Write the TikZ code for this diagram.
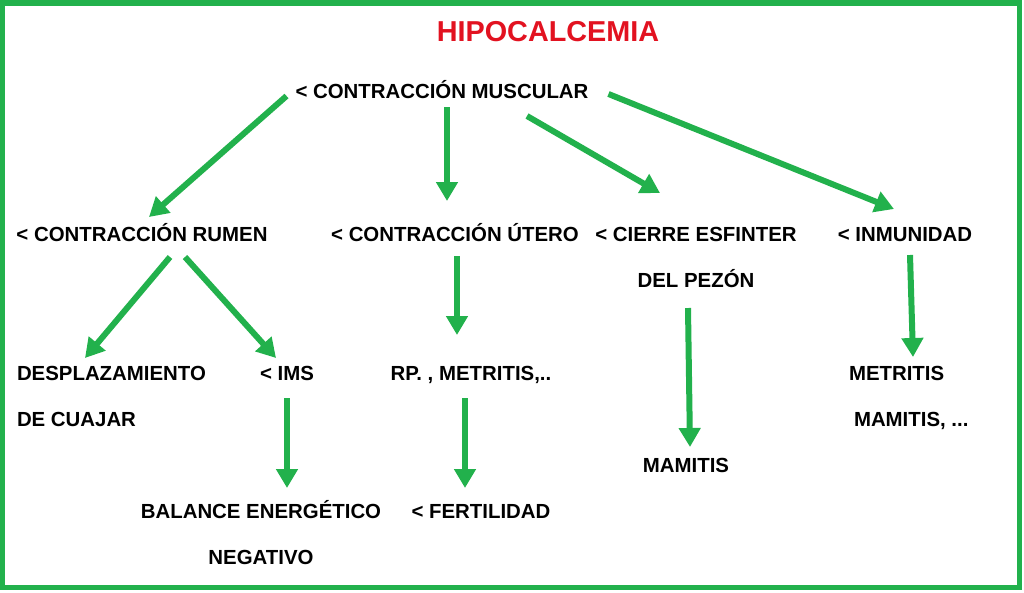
\documentclass[tikz,border=0pt]{standalone}
\usepackage{fontspec}
\setmainfont{Liberation Sans}
\usepackage{tikz}
\usetikzlibrary{arrows.meta}
\definecolor{verde}{RGB}{34,177,76}
\definecolor{rojo}{RGB}{226,18,32}
\begin{document}
\begin{tikzpicture}[x=1pt,y=-1pt,
  txt/.style={inner sep=0pt,outer sep=0pt,anchor=base,font=\fontsize{20.4}{46}\selectfont\bfseries},
  flecha/.style={verde,line width=6pt,-{Triangle[length=19pt,width=21pt]}},
  borde/.style={verde,line width=5.5pt}]
\useasboundingbox (0,0) rectangle (1024,592);
\draw[borde] (2.5,3) rectangle (1019.5,587.5);
\node[txt,rojo,font=\fontsize{28.8}{34}\selectfont\bfseries] (titulo) at (548,41) {HIPOCALCEMIA};
\node[txt] (musc) at (442,98) {< CONTRACCIÓN MUSCULAR};
\node[txt] (rumen) at (142,241) {< CONTRACCIÓN RUMEN};
\node[txt] (utero) at (455,241) {< CONTRACCIÓN ÚTERO};
\node[txt,align=center] (cierre) at (696,287) {< CIERRE ESFINTER\\DEL PEZÓN};
\node[txt] (inmun) at (905,241) {< INMUNIDAD};
\node[txt,align=left,anchor=base west] (despl) at (17,426) {DESPLAZAMIENTO\\DE CUAJAR};
\node[txt] (ims) at (287,380) {< IMS};
\node[txt] (rp) at (471,380) {RP. , METRITIS,..};
\node[txt,align=left,anchor=base west] (metr) at (849,426) {METRITIS\\\hspace*{5pt}MAMITIS, ...};
\node[txt] (mamitis) at (686,472) {MAMITIS};
\node[txt,align=center] (balance) at (261,564) {BALANCE ENERGÉTICO\\NEGATIVO};
\node[txt] (fert) at (481,518) {< FERTILIDAD};
\draw[flecha] ([shift={(-9,-2)}]musc.base west) -- ([shift={(7,-24)}]rumen.base);
\draw[flecha] ([shift={(5,9)}]musc.base) -- ([shift={(-8,-40)}]utero.base);
\draw[flecha] ([shift={(85,18)}]musc.base) -- ([shift={(-36,-94)}]cierre.base);
\draw[flecha] ([shift={(20,-4)}]musc.base east) -- ([shift={(-11,-32)}]inmun.base);
\draw[flecha] ([shift={(28,16)}]rumen.base) -- ([shift={(68,-68)}]despl.base west);
\draw[flecha] ([shift={(43,16)}]rumen.base) -- ([shift={(-11,-22)}]ims.base);
\draw[flecha] ([shift={(2,15)}]utero.base) -- ([shift={(-14,-45)}]rp.base);
\draw[flecha] ([shift={(-8,21)}]cierre.base) -- ([shift={(4,-25)}]mamitis.base);
\draw[flecha] ([shift={(5,14)}]inmun.base) -- ([shift={(64,-69)}]metr.base west);
\draw[flecha] ([shift={(0,18)}]ims.base) -- ([shift={(26,-76)}]balance.base);
\draw[flecha] ([shift={(-6,18)}]rp.base) -- ([shift={(-16,-30)}]fert.base);
\end{tikzpicture}
\end{document}
